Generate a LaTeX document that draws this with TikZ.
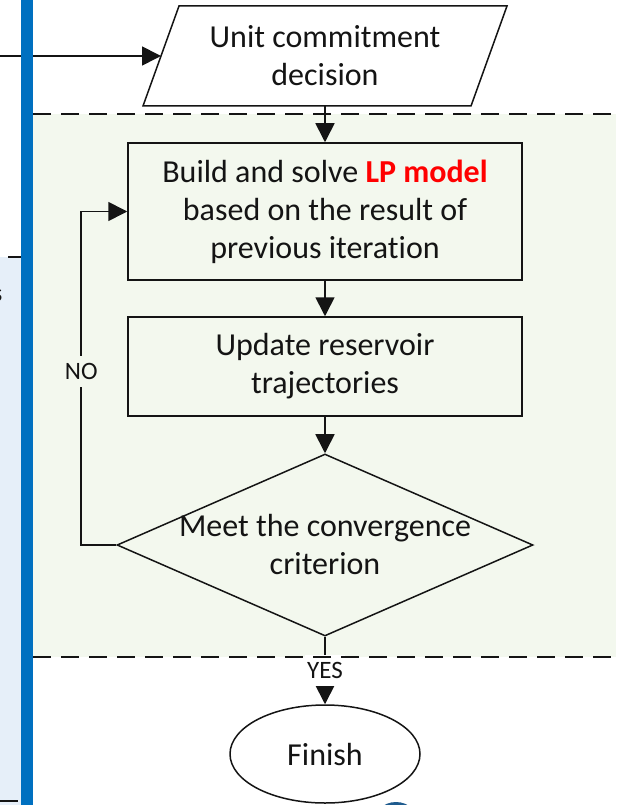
\documentclass[tikz,border=0pt]{standalone}
\usepackage{fontspec}
\setmainfont{Carlito}[Ligatures={NoCommon}]
\usetikzlibrary{arrows.meta,shapes.geometric,calc}
\definecolor{barblue}{HTML}{0070C0}
\definecolor{panelblue}{HTML}{E6EFF9}
\definecolor{loopgreen}{HTML}{F3F8EE}
\definecolor{ink}{HTML}{141414}
\definecolor{lpred}{HTML}{FF0000}
\definecolor{logoblue}{HTML}{1F5B8E}

\begin{document}
\begin{tikzpicture}[x=1pt,y=-1pt,
  every node/.style={text=ink},
  bigtext/.style={font=\fontsize{32}{38}\selectfont, align=center},
  smalltext/.style={font=\fontsize{25}{29}\selectfont},
  edgelabel/.style={smalltext, inner xsep=2pt, inner ysep=7pt},
  procbox/.style={draw=ink, line width=1.5pt, minimum width=394pt, bigtext},
  link/.style={draw=ink, line width=1.7pt, -{Triangle[length=19pt,width=19pt]}},
  regionedge/.style={draw=ink, line width=2pt, dash pattern=on 18pt off 10pt},
]
\useasboundingbox (0,0) rectangle (616,805);
\clip (0,0) rectangle (616,805);

% side panel on the left
\fill[panelblue] (0,257) rectangle (21,805);
\draw[ink, line width=1.5pt] (8,257) -- (21,257);
\node[smalltext, anchor=east, inner sep=0pt] (cut) at (2.5,296) {s};
\draw[regionedge] (0,801) -- (21,801);

% shaded iteration region
\fill[loopgreen] (33,114) rectangle (616,657);

% unit commitment input (parallelogram)
\node[bigtext, minimum width=328pt, minimum height=100pt, inner sep=0pt] (ucd) at (325,56) {Unit commitment\\decision};
\draw[ink, line width=1.5pt]
  ($(ucd.center)+(-146,-50)$) -- ($(ucd.center)+(182,-50)$) --
  ($(ucd.center)+(146,50)$) -- ($(ucd.center)+(-182,50)$) -- cycle;

% process steps
\node[procbox, minimum height=137pt] (build) at (325,211.5)
  {Build and solve \textcolor{lpred}{\textbf{LP model}}\\based on the result of\\previous iteration};
\node[procbox, minimum height=99pt] (update) at (325,366.5)
  {Update reservoir\\trajectories};

% convergence test
\node[diamond, draw=ink, line width=1.5pt, minimum width=416pt, minimum height=182pt, inner sep=0pt] (check) at (325,545) {};
\node[bigtext] (checktext) at (check.center) {Meet the convergence\\criterion};

% terminal
\node[ellipse, draw=ink, line width=1.5pt, fill=white, minimum width=190pt, minimum height=98pt, bigtext] (finish) at (325,754) {Finish};

% connectors
\coordinate (feed) at (0,56);
\draw[link] (feed) -- ($(ucd.center)+(-164,0)$);
\draw[link] (ucd.south) -- (build.north);
\draw[link] (build) -- (update);
\draw[link] (update) -- (check);
\draw[link] (check.west) -| node[edgelabel, fill=loopgreen, pos=0.76] (nolab) {NO}
  ($(build.west)+(-46,0)$) -- (build.west);
\draw[link] (check.south) -- node[edgelabel, fill=white, pos=0.5] (yeslab) {YES} (finish.north);

% region borders and vertical bar
\draw[regionedge] (33,114) -- (616,114);
\draw[regionedge] (33,657) -- (616,657);
\fill[barblue] (21,0) rectangle (33,805);

% emblem peeking in at the bottom edge
\fill[logoblue] (396,826) circle[radius=24];
\end{tikzpicture}
\end{document}
